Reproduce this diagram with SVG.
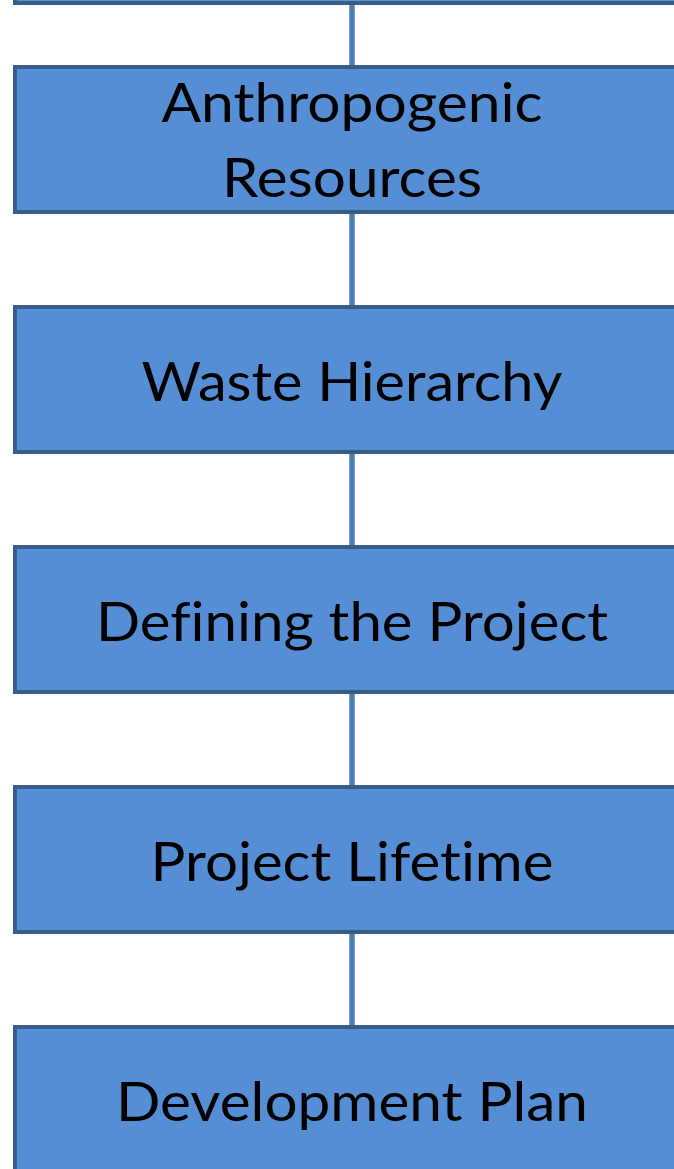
<svg xmlns="http://www.w3.org/2000/svg" width="674" height="1169" viewBox="0 0 674 1169">
<style>
.box{fill:#558ed5;stroke:#385d8a;stroke-width:4}
.conn{stroke:#4a7ebb;stroke-width:5.5;fill:none}
.lbl{font-family:Lato,"Open Sans","Liberation Sans",sans-serif;font-size:55px;fill:#000;text-anchor:middle;font-variant-ligatures:none}
</style>
<rect width="674" height="1169" fill="#fff"/>
<g id="connectors">
<line class="conn" x1="352" y1="0" x2="352" y2="1030"/>
</g>
<g id="node0"><rect class="box" x="15" y="-100" width="700" height="103"/></g>
<g id="node1"><rect class="box" x="15" y="67" width="700" height="145"/>
<text class="lbl" x="352" y="122" textLength="381" lengthAdjust="spacingAndGlyphs">Anthropogenic</text>
<text class="lbl" x="352" y="197" textLength="260" lengthAdjust="spacingAndGlyphs">Resources</text></g>
<g id="node2"><rect class="box" x="15" y="307" width="700" height="145"/>
<text class="lbl" x="352" y="401" textLength="421" lengthAdjust="spacingAndGlyphs">Waste Hierarchy</text></g>
<g id="node3"><rect class="box" x="15" y="547" width="700" height="145"/>
<text class="lbl" x="352" y="641" textLength="512" lengthAdjust="spacingAndGlyphs">Defining the Project</text></g>
<g id="node4"><rect class="box" x="15" y="787" width="700" height="145"/>
<text class="lbl" x="352" y="881" textLength="403" lengthAdjust="spacingAndGlyphs">Project Lifetime</text></g>
<g id="node5"><rect class="box" x="15" y="1027" width="700" height="200"/>
<text class="lbl" x="352" y="1121" textLength="472" lengthAdjust="spacingAndGlyphs">Development Plan</text></g>
</svg>
